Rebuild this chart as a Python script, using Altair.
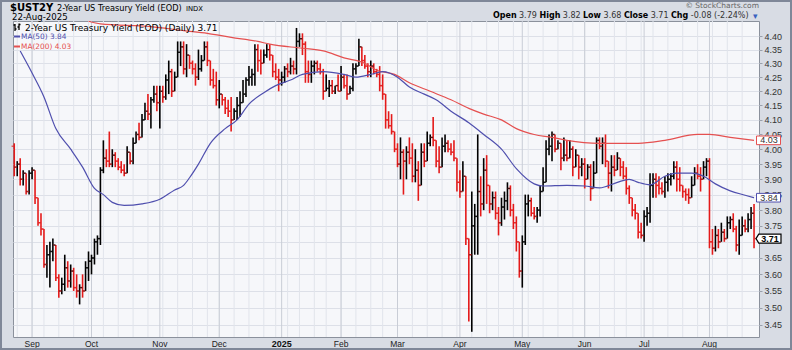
import altair as alt
import pandas as pd

# ---------------- data ----------------
OPEN = [4.01, 3.94, 3.95, 3.90, 3.92, 3.86, 3.92, 3.93, 3.84, 3.76,
        3.74, 3.63, 3.66, 3.67, 3.69, 3.59, 3.55, 3.57, 3.62, 3.58,
        3.61, 3.56, 3.55, 3.56, 3.55, 3.62, 3.64, 3.65, 3.70, 3.71,
        3.93, 3.97, 3.96, 3.95, 3.98, 3.96, 3.94, 3.93, 3.92, 3.99,
        3.96, 4.02, 4.05, 4.04, 4.10, 4.13, 4.12, 4.17, 4.19, 4.16,
        4.20, 4.18, 4.24, 4.27, 4.20, 4.25, 4.34, 4.36, 4.28, 4.33,
        4.30, 4.28, 4.25, 4.28, 4.31, 4.36, 4.31, 4.24, 4.22, 4.17,
        4.19, 4.17, 4.14, 4.13, 4.10, 4.13, 4.15, 4.16, 4.19, 4.24,
        4.25, 4.26, 4.35, 4.31, 4.30, 4.33, 4.35, 4.33, 4.27, 4.25,
        4.24, 4.25, 4.28, 4.27, 4.29, 4.28, 4.38, 4.39, 4.37, 4.27,
        4.26, 4.29, 4.30, 4.28, 4.27, 4.20, 4.21, 4.22, 4.20, 4.22,
        4.20, 4.25, 4.22, 4.19, 4.21, 4.28, 4.29, 4.36, 4.31, 4.29,
        4.27, 4.29, 4.27, 4.26, 4.22, 4.19, 4.10, 4.08, 4.06, 4.00,
        3.95, 3.99, 3.96, 3.99, 3.97, 3.91, 3.93, 3.88, 3.99, 3.96,
        4.02, 4.04, 4.03, 3.96, 3.94, 4.01, 4.02, 4.00, 3.99, 3.97,
        3.89, 3.86, 3.91, 3.71, 3.66, 3.75, 3.78, 3.86, 3.82, 3.93,
        3.88, 3.82, 3.84, 3.79, 3.76, 3.81, 3.83, 3.87, 3.80, 3.76,
        3.70, 3.61, 3.70, 3.82, 3.83, 3.79, 3.78, 3.80, 3.86, 3.89,
        4.00, 4.01, 4.05, 4.00, 4.02, 3.97, 3.98, 3.97, 4.00, 3.94,
        3.98, 3.94, 3.95, 3.90, 3.94, 3.87, 3.92, 4.03, 4.01, 4.02,
        3.96, 3.92, 3.94, 3.93, 3.97, 3.94, 3.91, 3.87, 3.84, 3.80,
        3.79, 3.73, 3.72, 3.78, 3.79, 3.88, 3.90, 3.88, 3.87, 3.86,
        3.89, 3.90, 3.91, 3.94, 3.90, 3.88, 3.86, 3.85, 3.84, 3.88,
        3.92, 3.91, 3.90, 3.94, 3.96, 3.70, 3.68, 3.72, 3.70, 3.73,
        3.71, 3.76, 3.77, 3.74, 3.69, 3.72, 3.75, 3.74, 3.77, 3.79]

HIGH = [4.02, 3.96, 3.97, 3.93, 3.92, 3.93, 3.94, 3.93, 3.84, 3.79,
        3.74, 3.69, 3.70, 3.71, 3.69, 3.60, 3.59, 3.66, 3.64, 3.63,
        3.62, 3.60, 3.57, 3.60, 3.64, 3.67, 3.66, 3.71, 3.72, 3.94,
        4.03, 4.00, 4.06, 4.00, 3.99, 3.97, 3.96, 3.95, 4.01, 3.99,
        4.04, 4.06, 4.09, 4.12, 4.16, 4.19, 4.18, 4.22, 4.22, 4.22,
        4.22, 4.26, 4.31, 4.28, 4.27, 4.38, 4.38, 4.38, 4.37, 4.33,
        4.31, 4.30, 4.35, 4.33, 4.38, 4.38, 4.31, 4.28, 4.27, 4.24,
        4.19, 4.18, 4.17, 4.18, 4.14, 4.18, 4.20, 4.24, 4.25, 4.29,
        4.28, 4.37, 4.37, 4.35, 4.35, 4.37, 4.37, 4.33, 4.30, 4.28,
        4.27, 4.29, 4.30, 4.32, 4.31, 4.43, 4.41, 4.41, 4.38, 4.31,
        4.31, 4.31, 4.31, 4.30, 4.28, 4.26, 4.24, 4.24, 4.22, 4.26,
        4.29, 4.26, 4.26, 4.22, 4.30, 4.30, 4.39, 4.36, 4.33, 4.30,
        4.31, 4.30, 4.28, 4.29, 4.26, 4.19, 4.13, 4.12, 4.06, 4.02,
        4.04, 4.00, 4.01, 4.04, 4.02, 4.00, 3.96, 4.02, 4.02, 4.06,
        4.05, 4.11, 4.03, 4.01, 4.04, 4.05, 4.03, 4.02, 4.03, 3.97,
        3.93, 3.96, 3.91, 3.71, 3.86, 3.82, 4.05, 3.91, 3.97, 3.98,
        3.88, 3.86, 3.86, 3.81, 3.84, 3.86, 3.89, 3.88, 3.82, 3.78,
        3.70, 3.72, 3.85, 3.85, 3.84, 3.81, 3.81, 3.88, 3.94, 4.03,
        4.05, 4.06, 4.05, 4.03, 4.02, 4.04, 4.03, 4.03, 4.01, 4.00,
        3.98, 3.97, 3.97, 3.95, 3.95, 3.96, 4.04, 4.04, 4.04, 4.05,
        3.96, 3.98, 3.98, 3.99, 3.97, 3.96, 3.94, 3.88, 3.84, 3.82,
        3.79, 3.76, 3.80, 3.81, 3.92, 3.92, 3.92, 3.91, 3.89, 3.91,
        3.92, 3.92, 3.96, 3.96, 3.94, 3.88, 3.87, 3.87, 3.91, 3.94,
        3.95, 3.94, 3.96, 3.97, 3.97, 3.74, 3.75, 3.74, 3.76, 3.74,
        3.78, 3.78, 3.79, 3.75, 3.77, 3.78, 3.77, 3.79, 3.81, 3.82]

LOW = [3.91, 3.91, 3.88, 3.88, 3.85, 3.85, 3.90, 3.82, 3.75, 3.72,
       3.62, 3.59, 3.56, 3.64, 3.58, 3.53, 3.54, 3.55, 3.56, 3.56,
       3.55, 3.53, 3.51, 3.53, 3.55, 3.58, 3.60, 3.63, 3.66, 3.69,
       3.92, 3.94, 3.94, 3.94, 3.94, 3.93, 3.92, 3.91, 3.92, 3.95,
       3.95, 4.02, 4.03, 4.04, 4.10, 4.10, 4.07, 4.16, 4.13, 4.07,
       4.16, 4.17, 4.19, 4.18, 4.20, 4.25, 4.29, 4.26, 4.25, 4.28,
       4.26, 4.22, 4.24, 4.27, 4.31, 4.29, 4.22, 4.21, 4.15, 4.14,
       4.15, 4.12, 4.11, 4.06, 4.10, 4.10, 4.11, 4.16, 4.18, 4.22,
       4.22, 4.22, 4.27, 4.26, 4.30, 4.32, 4.31, 4.25, 4.24, 4.20,
       4.22, 4.23, 4.25, 4.26, 4.26, 4.26, 4.36, 4.33, 4.23, 4.23,
       4.23, 4.26, 4.27, 4.26, 4.17, 4.20, 4.18, 4.19, 4.19, 4.20,
       4.20, 4.21, 4.17, 4.19, 4.20, 4.26, 4.29, 4.29, 4.28, 4.25,
       4.25, 4.26, 4.25, 4.20, 4.17, 4.07, 4.07, 4.05, 3.99, 3.94,
       3.90, 3.85, 3.90, 3.95, 3.89, 3.89, 3.83, 3.88, 3.94, 3.96,
       4.01, 4.01, 3.94, 3.92, 3.94, 3.99, 3.99, 3.98, 3.96, 3.86,
       3.84, 3.86, 3.69, 3.46, 3.43, 3.66, 3.66, 3.78, 3.80, 3.82,
       3.79, 3.80, 3.77, 3.72, 3.75, 3.77, 3.80, 3.78, 3.74, 3.67,
       3.59, 3.56, 3.69, 3.78, 3.78, 3.77, 3.76, 3.78, 3.86, 3.89,
       3.98, 3.96, 3.99, 4.00, 3.93, 3.96, 3.96, 3.97, 3.91, 3.94,
       3.90, 3.91, 3.87, 3.90, 3.83, 3.87, 3.92, 4.00, 3.95, 3.94,
       3.87, 3.86, 3.91, 3.93, 3.91, 3.90, 3.85, 3.82, 3.78, 3.77,
       3.71, 3.71, 3.70, 3.75, 3.76, 3.84, 3.84, 3.85, 3.85, 3.84,
       3.86, 3.88, 3.90, 3.86, 3.86, 3.84, 3.83, 3.82, 3.84, 3.88,
       3.90, 3.86, 3.90, 3.91, 3.68, 3.66, 3.67, 3.68, 3.70, 3.70,
       3.71, 3.74, 3.73, 3.67, 3.66, 3.72, 3.73, 3.73, 3.74, 3.68]

CLOSE = [3.94, 3.95, 3.90, 3.92, 3.86, 3.92, 3.93, 3.84, 3.76, 3.74,
         3.63, 3.66, 3.67, 3.69, 3.59, 3.55, 3.57, 3.62, 3.58, 3.61,
         3.56, 3.55, 3.56, 3.55, 3.62, 3.64, 3.65, 3.70, 3.71, 3.93,
         3.97, 3.96, 3.95, 3.98, 3.96, 3.94, 3.93, 3.92, 3.99, 3.96,
         4.02, 4.05, 4.04, 4.10, 4.13, 4.12, 4.17, 4.19, 4.16, 4.20,
         4.18, 4.24, 4.27, 4.20, 4.25, 4.34, 4.36, 4.28, 4.33, 4.30,
         4.28, 4.25, 4.28, 4.31, 4.36, 4.31, 4.24, 4.22, 4.17, 4.19,
         4.17, 4.14, 4.13, 4.10, 4.13, 4.15, 4.16, 4.19, 4.24, 4.25,
         4.26, 4.35, 4.31, 4.30, 4.33, 4.35, 4.33, 4.27, 4.25, 4.24,
         4.25, 4.28, 4.27, 4.29, 4.28, 4.38, 4.39, 4.37, 4.27, 4.26,
         4.29, 4.30, 4.28, 4.27, 4.20, 4.21, 4.22, 4.20, 4.22, 4.20,
         4.25, 4.22, 4.19, 4.21, 4.28, 4.29, 4.36, 4.31, 4.29, 4.27,
         4.29, 4.27, 4.26, 4.22, 4.19, 4.10, 4.08, 4.06, 4.00, 3.95,
         3.99, 3.96, 3.99, 3.97, 3.91, 3.93, 3.88, 3.99, 3.96, 4.02,
         4.04, 4.03, 3.96, 3.94, 4.01, 4.02, 4.00, 3.99, 3.97, 3.89,
         3.86, 3.91, 3.71, 3.66, 3.75, 3.78, 3.86, 3.82, 3.93, 3.88,
         3.82, 3.84, 3.79, 3.76, 3.81, 3.83, 3.87, 3.80, 3.76, 3.70,
         3.61, 3.70, 3.82, 3.83, 3.79, 3.78, 3.80, 3.86, 3.89, 4.00,
         4.01, 4.05, 4.00, 4.02, 3.97, 3.98, 3.97, 4.00, 3.94, 3.98,
         3.94, 3.95, 3.90, 3.94, 3.87, 3.92, 4.03, 4.01, 4.02, 3.96,
         3.92, 3.94, 3.93, 3.97, 3.94, 3.91, 3.87, 3.84, 3.80, 3.79,
         3.73, 3.72, 3.78, 3.79, 3.88, 3.90, 3.88, 3.87, 3.86, 3.89,
         3.90, 3.91, 3.94, 3.90, 3.88, 3.86, 3.85, 3.84, 3.88, 3.92,
         3.91, 3.90, 3.94, 3.96, 3.70, 3.68, 3.72, 3.70, 3.73, 3.71,
         3.76, 3.77, 3.74, 3.69, 3.72, 3.75, 3.74, 3.77, 3.79, 3.71]

# moving averages read at sample bars
MA50_BAR = [2, 6, 10, 14, 19, 23, 27, 30, 33, 37, 43, 49, 54, 57, 59, 62, 66, 71, 75, 79,
            84, 88, 93, 97, 104, 111, 115, 120, 124, 129, 133, 138, 142, 147, 153, 158, 164,
            169, 175, 178, 186, 192, 197, 203, 207, 210, 214, 219, 223, 228, 232, 236, 241, 246, 249]
MA50_VAL = [4.345, 4.265, 4.18, 4.07, 4.00, 3.94, 3.87, 3.85, 3.825, 3.815, 3.82, 3.835, 3.865,
            3.88, 3.905, 3.95, 4.02, 4.07, 4.10, 4.155, 4.195, 4.22, 4.24, 4.26, 4.27, 4.26,
            4.25, 4.26, 4.27, 4.25, 4.215, 4.19, 4.17, 4.13, 4.09, 4.05, 4.00, 3.935, 3.885,
            3.878, 3.88, 3.878, 3.872, 3.89, 3.90, 3.89, 3.882, 3.91, 3.92, 3.92, 3.91, 3.885,
            3.862, 3.848, 3.84]
MA200_BAR = [25, 29, 46, 57, 65, 73, 82, 86, 97, 104, 111, 118, 122, 128, 133, 140, 147,
             153, 158, 164, 169, 175, 181, 186, 197, 210, 219, 230, 234, 241, 249]
MA200_VAL = [4.455, 4.445, 4.435, 4.42, 4.41, 4.395, 4.38, 4.37, 4.355, 4.345, 4.32, 4.30,
             4.275, 4.26, 4.23, 4.20, 4.17, 4.14, 4.12, 4.10, 4.07, 4.05, 4.04, 4.03, 4.02,
             4.02, 4.03, 4.05, 4.05, 4.04, 4.03]

MONTH_BAR = [6, 26, 49, 69, 90, 110, 129, 150, 171, 192, 212, 234]
MONTH_LABEL = ["Sep", "Oct", "Nov", "Dec", "2025", "Feb", "Mar", "Apr", "May", "Jun", "Jul", "Aug"]
WEEK_BAR = [1, 6, 10, 15, 20, 25, 30, 35, 40, 45, 50, 55, 60, 65, 69, 74, 79, 84, 88, 92, 96,
            101, 105, 110, 115, 120, 124, 129, 134, 139, 144, 149, 154, 159, 163, 168, 173,
            178, 183, 188, 192, 197, 202, 206, 211, 215, 220, 225, 230, 235, 240, 245]
Y_TICKS = [3.45, 3.50, 3.55, 3.60, 3.65, 3.70, 3.75, 3.80, 3.85, 3.90,
           3.95, 4.00, 4.05, 4.10, 4.15, 4.20, 4.25, 4.30, 4.35, 4.40]

SYMBOL = "$UST2Y"
NAME = "2-Year US Treasury Yield (EOD)"
DATE = "22-Aug-2025"
QUOTE = [("Open", "3.79"), ("High", "3.82"), ("Low", "3.68"), ("Close", "3.71"), ("Chg", "-0.08 (-2.24%)")]

# ---------------- layout constants ----------------
W, H = 746, 316
PX0, PY0 = 13, 21
FONT = "DejaVu Sans"
AFONT = "Liberation Sans"
UP, DOWN = "#000000", "#e41a1a"
BLUE, MARED = "#4f4fae", "#e55050"

n = len(CLOSE)
prev = [OPEN[0]] + CLOSE[:-1]
bars = pd.DataFrame({
    "i": list(range(n)), "open": OPEN, "high": HIGH, "low": LOW, "close": CLOSE,
    "dir": ["down" if c < p else "up" for c, p in zip(CLOSE, prev)],
})
ma50 = pd.DataFrame({"i": MA50_BAR, "v": MA50_VAL})
ma200 = pd.DataFrame({"i": MA200_BAR, "v": MA200_VAL})
months = pd.DataFrame({"i": MONTH_BAR, "label": MONTH_LABEL})
weeks = pd.DataFrame({"i": WEEK_BAR})

last_close = CLOSE[-1]
last50 = MA50_VAL[-1]
last200 = MA200_VAL[-1]

xs = alt.Scale(domain=[-0.42, 250.67], nice=False, zero=False)
ys = alt.Scale(type="log", domain=[3.415, 4.456], nice=False)
# the tick label hidden under the last-close box is left blank, as in the reference
YAX = alt.Axis(orient="right", values=Y_TICKS, format=".2f", title=None, domain=False,
               grid=True, gridColor="#dde0e8", gridWidth=1, ticks=True, tickSize=3,
               tickColor="#9aa0aa", labelFont=AFONT, labelFontSize=9, labelColor="#333333",
               labelPadding=2,
               labelExpr=f"abs(datum.value - {last_close}) < 0.02 ? '' : format(datum.value, '.2f')")
colr = alt.Color("dir:N", scale=alt.Scale(domain=["up", "down"], range=[UP, DOWN]), legend=None)


def X(f="i"):
    return alt.X(f"{f}:Q", scale=xs, axis=None)


def Y(f):
    return alt.Y(f"{f}:Q", scale=ys, axis=YAX)


week_rules = alt.Chart(weeks).mark_rule(color="#e1e4eb", strokeWidth=1).encode(x=X())
month_rules = alt.Chart(months).mark_rule(color="#c9cdd6", strokeWidth=1).encode(x=X())

hl = alt.Chart(bars).mark_rule(strokeWidth=1.6).encode(x=X(), y=Y("low"), y2="high:Q", color=colr)
op = alt.Chart(bars).mark_tick(orient="horizontal", size=2.2, thickness=1.4, xOffset=-1.6).encode(
    x=X(), y=Y("open"), color=colr)
cl = alt.Chart(bars).mark_tick(orient="horizontal", size=2.2, thickness=1.4, xOffset=1.6).encode(
    x=X(), y=Y("close"), color=colr)

l50 = alt.Chart(ma50).mark_line(color=BLUE, strokeWidth=1.2, interpolate="monotone", clip=True).encode(
    x=X(), y=Y("v"))
l200 = alt.Chart(ma200).mark_line(color=MARED, strokeWidth=1.2, interpolate="monotone", clip=True).encode(
    x=X(), y=Y("v"))


def txt(s, x, y, size=8, color="#000000", weight="normal", align="left", font=FONT):
    return alt.Chart(pd.DataFrame({"t": [s]})).mark_text(
        align=align, baseline="middle", fontSize=size, color=color, fontWeight=weight, font=font
    ).encode(text="t:N", x=alt.value(x - PX0), y=alt.value(y - PY0))


def seg(x1, x2, y1, y2, color, width=1.0):
    return alt.Chart(pd.DataFrame({"a": [0]})).mark_rule(color=color, strokeWidth=width).encode(
        x=alt.value(x1 - PX0), x2=alt.value(x2 - PX0), y=alt.value(y1 - PY0), y2=alt.value(y2 - PY0))


# month labels under the plot
mlab = alt.Chart(months).transform_filter("datum.label != '2025'").mark_text(
    font=AFONT, fontSize=8.5, color="#222222", baseline="middle").encode(
    x=X(), y=alt.value(322.7), text="label:N")
ylab = alt.Chart(months).transform_filter("datum.label == '2025'").mark_text(
    font=AFONT, fontSize=9, fontWeight="bold", color="#111111", baseline="middle").encode(
    x=X(), y=alt.value(322.7), text="label:N")

# value boxes at right axis
box_shape = "M-1,-0.36L1,-0.36L1,0.36L-1,0.36Z"
arrow_shape = "M-1,0L-0.78,-0.36L1,-0.36L1,0.36L-0.78,0.36Z"
boxes = pd.DataFrame({"v": [last200, last50], "k": ["ma200", "ma50"]})
box_pts = alt.Chart(boxes).mark_point(shape=box_shape, size=24 * 24, filled=True, fill="white",
                                      strokeWidth=1, opacity=1).encode(
    x=alt.value(768.5 - PX0), y=Y("v"),
    stroke=alt.Stroke("k:N", scale=alt.Scale(domain=["ma200", "ma50"], range=[MARED, BLUE]), legend=None))
box_txt = alt.Chart(boxes).mark_text(font=AFONT, fontSize=9, color="#333333", align="center",
                                     baseline="middle").encode(
    x=alt.value(769 - PX0), y=Y("v"), text=alt.Text("v:Q", format=".2f"))
lastdf = pd.DataFrame({"v": [last_close]})
last_pt = alt.Chart(lastdf).mark_point(shape=arrow_shape, size=25 * 25, filled=True, fill="white",
                                       stroke="#000000", strokeWidth=1.2, opacity=1).encode(
    x=alt.value(768.5 - PX0), y=Y("v"))
last_txt = alt.Chart(lastdf).mark_text(font=AFONT, fontSize=9, fontWeight="bold", color="#000000",
                                       align="center", baseline="middle").encode(
    x=alt.value(770 - PX0), y=Y("v"), text=alt.Text("v:Q", format=".2f"))

frame = alt.Chart(pd.DataFrame({"a": [0]})).mark_rect(fill=None, stroke="#7f8798", strokeWidth=2).encode(
    x=alt.value(-PX0 + 1), x2=alt.value(792 - PX0 - 1), y=alt.value(-PY0 + 1), y2=alt.value(350 - PY0 - 1))

# quote line (top right), words placed one after another
qx = [493, 539.5, 583, 624, 671]
vx = [519, 562.8, 603.6, 650.7, 690.8]
quote_layers = []
for (lab, val), a, b in zip(QUOTE, qx, vx):
    quote_layers.append(txt(lab, a, 16, size=8, weight="bold"))
    quote_layers.append(txt(val, b, 16, size=8, color="#333333"))

layers = [
    week_rules, month_rules, hl, op, cl, l200, l50,
    # in-plot legend
    seg(15, 15, 24, 31, "#000000", 1.3), seg(13.5, 15, 25, 25, "#000000", 1.3),
    seg(15, 16.5, 29, 29, "#000000", 1.3), seg(19, 19, 23.5, 30, "#000000", 1.3),
    seg(17.5, 19, 27, 27, "#000000", 1.3), seg(19, 20.5, 24.5, 24.5, "#000000", 1.3),
    txt(NAME + " (Daily) " + f"{last_close:.2f}", 25, 28, size=9),
    seg(14, 20, 36.5, 36.5, BLUE, 2), txt(f"MA(50) {last50:.2f}", 21, 36.5, size=7.4, color=BLUE),
    seg(14, 20, 46.5, 46.5, MARED, 2), txt(f"MA(200) {last200:.2f}", 21, 46.5, size=7.4, color=MARED),
    # header above plot
    txt(SYMBOL, 10, 8, size=10, weight="bold", font=FONT),
    txt(NAME, 57, 8.5, size=8.2),
    txt("INDX", 186, 9, size=6.8),
    txt(DATE, 12, 17, size=8.6),
    txt("\u00a9 StockCharts.com", 759, 5.5, size=7.5, color="#666666", align="right"),
] + quote_layers + [
    txt("\u25be", 753, 16, size=9, color="#3a62c0"),
    mlab, ylab, box_pts, box_txt, last_pt, last_txt, frame,
]

chart = alt.layer(*layers).properties(
    width=W, height=H,
    padding={"left": PX0, "top": PY0, "right": 792 - PX0 - W, "bottom": 350 - PY0 - H},
    autosize=alt.AutoSizeParams(type="none"),
).configure(background="#d8dce4").configure_view(fill="#f6f7fa", stroke="#8b919c", strokeWidth=1)

chart.save("out.html", embed_options={"renderer": "svg", "actions": False})
